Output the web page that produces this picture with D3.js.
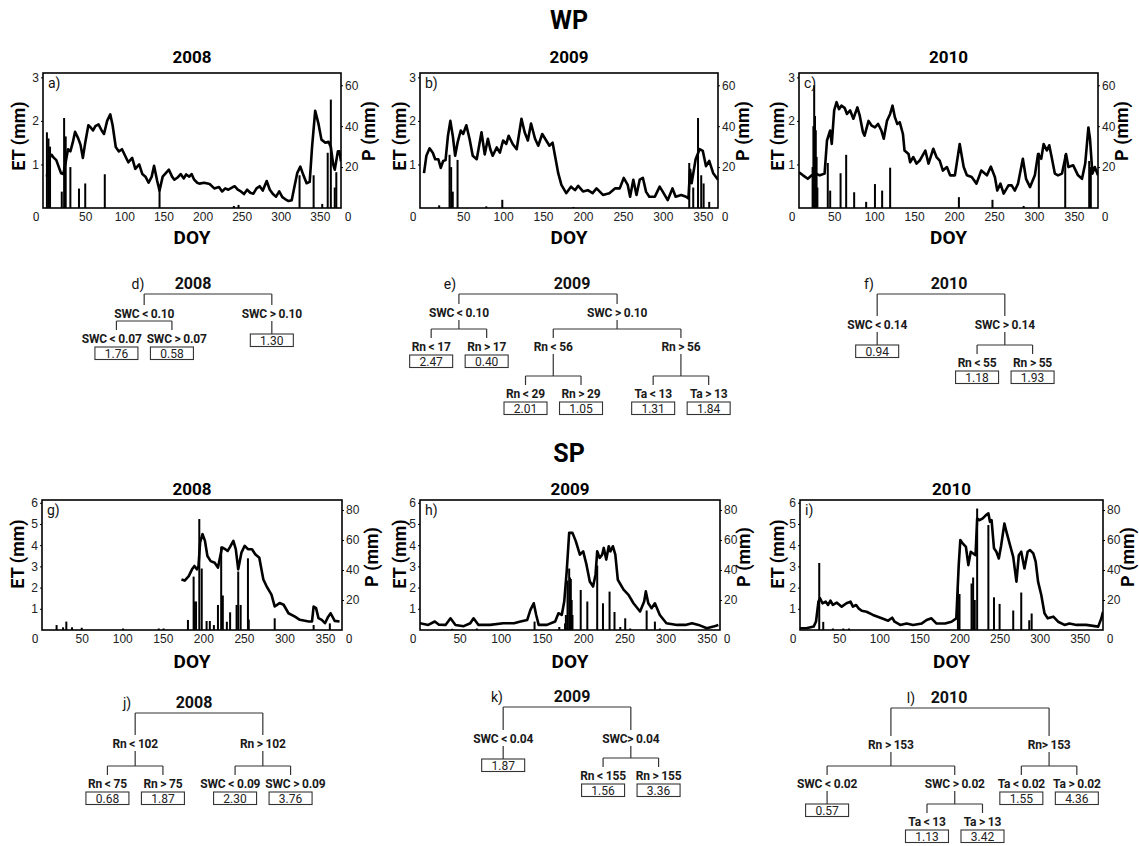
<!DOCTYPE html>
<html>
<head>
<meta charset="utf-8">
<script src="https://cdn.jsdelivr.net/npm/d3@7"></script>
<style>
	body { margin: 0; background: #fff; }
	svg { display: block; font-family: Roboto, 'Open Sans', sans-serif; }
	.tick text { font-size: 12px; fill: #222; }
	.tick line { stroke: #000; }
</style>
</head>
<body>
<svg id="chart" width="1139" height="846"></svg>
<script>
// ---- data ----
const xTicks = [ 50, 100, 150, 200, 250, 300, 350 ];
const wpEtTicks = [ 1, 2, 3 ];
const wpPTicks = [ 20, 40, 60 ];
const spEtTicks = [ 1, 2, 3, 4, 5, 6 ];
const spPTicks = [ 20, 40, 60, 80 ];

// WP daily ET (mm) as [DOY, ET]
const wpEt2008 = [
	[1,0.72],[4,1.15],[7,1.22],[10,1.15],[13,1.1],[16,0.95],[19,0.8],[22,0.78],[25,1.05],[28,1.35],
	[31,1.3],[34,1.5],[37,1.75],[41,1.6],[44,1.45],[47,1.15],[50,1.5],[54,1.9],[57,1.85],[60,1.78],
	[63,1.88],[67,1.92],[71,1.78],[74,1.7],[78,2.0],[82,2.15],[85,1.9],[89,1.4],[93,1.3],[97,1.35],
	[101,1.2],[105,1.05],[110,1.15],[114,0.9],[119,1.0],[123,0.78],[127,0.72],[131,0.58],[135,0.72],[138,0.97],
	[142,0.62],[145,0.4],[149,0.72],[153,0.8],[157,0.88],[161,0.72],[164,0.65],[168,0.7],[172,0.78],[176,0.68],
	[179,0.77],[183,0.72],[186,0.78],[189,0.66],[193,0.58],[196,0.56],[202,0.58],[209,0.55],[215,0.45],[221,0.48],
	[225,0.38],[229,0.45],[233,0.42],[237,0.46],[241,0.5],[245,0.42],[249,0.38],[253,0.32],[257,0.42],[261,0.35],
	[265,0.33],[269,0.45],[273,0.5],[277,0.4],[282,0.62],[286,0.42],[290,0.32],[294,0.26],[298,0.38],[302,0.25],
	[306,0.2],[310,0.16],[314,0.18],[317,0.45],[321,0.8],[325,0.95],[329,0.75],[333,0.57],[337,0.6],[340,1.4],
	[344,2.23],[348,1.95],[352,1.57],[357,1.5],[361,1.52],[364,1.4],[367,1.0],[369,0.88],[373,1.3],[375,1.3],[377,1.07]
];
const wpEt2009 = [
	[1,0.8],[4,1.2],[8,1.37],[12,1.27],[15,1.12],[19,1.12],[22,0.92],[25,1.08],[28,1.1],[31,1.66],
	[34,2.0],[37,1.66],[40,1.2],[43,1.5],[47,1.78],[50,1.7],[54,1.9],[58,1.59],[62,1.2],[67,1.12],
	[73,1.74],[77,1.23],[81,1.59],[84,1.35],[87,1.2],[92,1.39],[96,1.27],[100,1.55],[104,1.47],[107,1.66],
	[112,1.47],[117,1.35],[123,2.05],[127,1.74],[131,1.55],[135,1.94],[140,1.59],[144,1.43],[149,1.7],[154,1.55],
	[158,1.43],[162,1.5],[165,1.2],[169,0.8],[173,0.53],[179,0.34],[185,0.49],[190,0.41],[194,0.51],[200,0.38],
	[206,0.41],[212,0.34],[217,0.45],[225,0.3],[233,0.34],[240,0.45],[246,0.45],[251,0.69],[256,0.53],[259,0.26],
	[263,0.65],[267,0.3],[271,0.65],[275,0.69],[279,0.37],[283,0.26],[290,0.26],[296,0.49],[300,0.37],[306,0.18],
	[312,0.45],[316,0.26],[323,0.3],[329,0.26],[332,0.22],[334,0.88],[336,0.57],[341,1.12],[346,1.35],[350,1.31],
	[354,0.96],[358,1.08],[363,0.8],[369,0.65]
];
const wpEt2010 = [
	[6,0.82],[11,0.75],[17,0.67],[22,0.75],[28,0.78],[32,0.75],[38,0.79],[41,1.55],[45,1.78],[47,1.47],
	[50,2.24],[53,2.43],[56,2.27],[59,2.35],[63,2.3],[66,2.16],[70,2.24],[74,2.05],[79,2.31],[82,2.12],
	[86,1.74],[88,1.66],[93,2.0],[97,1.89],[101,1.85],[105,1.93],[109,1.78],[112,1.59],[116,2.0],[120,2.16],
	[123,2.35],[126,2.08],[129,1.93],[132,1.97],[136,1.7],[138,1.32],[143,1.24],[145,1.05],[149,1.17],[153,1.02],
	[157,1.09],[164,1.32],[168,1.02],[174,1.36],[178,1.17],[182,1.09],[186,0.86],[191,0.94],[195,0.75],[201,0.75],
	[207,1.47],[212,0.94],[216,0.75],[222,0.71],[228,0.56],[234,0.86],[241,0.75],[246,0.95],[251,0.71],[254,0.4],
	[258,0.56],[262,0.33],[268,0.52],[272,0.52],[276,0.4],[280,0.56],[286,1.13],[290,0.67],[295,0.48],[301,0.75],
	[305,1.24],[309,1.13],[312,1.47],[316,1.32],[319,1.44],[322,1.17],[326,0.79],[330,0.75],[335,0.79],[340,1.24],
	[343,0.94],[349,0.98],[355,0.75],[360,0.67],[364,1.02],[368,1.85],[370,1.59],[373,0.79],[376,0.94],[380,0.75]
];

// WP precipitation (mm) as [DOY, P]
const wpP2008 = [
	[1,37],[3,34],[5,30],[20,8],[23,44],[25,35],[31,20],[42,9.5],[50,12],[75,16.5],[145,10],
	[240,1],[246,1.5],[324,16],[342,16],[353,2],[360,27],[364,53],[369,10],[371,17.5]
];
const wpP2009 = [
	[20,1.3],[33,26],[35,20],[37,8],[43,23.5],[79,0.8],[99,4],[188,0.5],
	[333,22],[338,10],[344,44],[348,16],[351,12],[358,3]
];
const wpP2010 = [
	[23,20],[24,40],[25,60],[26,45],[27,38],[28,25],[29,10],[42,22],[45,8.5],[58,17],[65,26],[75,7.7],
	[90,3],[101,11.7],[110,8.5],[120,19.7],[206,5.3],[248,4],[287,1],[306,27],[339,26],[369,23],[371,20]
];

// SP daily ET (mm) as [DOY, ET]
const spEt2008 = [
	[173,2.38],[177,2.33],[182,2.54],[186,2.86],[189,3.02],[192,2.86],[194,3.0],[196,4.13],[199,4.52],[202,4.2],
	[205,3.49],[209,3.25],[214,3.17],[218,2.94],[223,3.89],[227,3.81],[230,3.73],[233,3.92],[237,4.2],[240,3.81],
	[243,2.86],[247,3.65],[251,3.97],[255,3.81],[260,3.81],[264,3.57],[269,3.41],[274,2.38],[278,2.06],[284,1.67],
	[288,1.11],[294,1.27],[299,1.19],[305,0.79],[313,0.63],[319,0.48],[330,0.4],[334,0.4],[336,1.11],[339,1.03],
	[342,0.56],[346,0.48],[350,0.32],[354,0.63],[357,0.79],[362,0.43],[368,0.4]
];
const spEt2009 = [
	[2,0.32],[12,0.24],[20,0.4],[25,0.25],[33,0.24],[39,0.55],[45,0.24],[55,0.18],[63,0.32],[67,0.55],
	[73,0.24],[87,0.24],[103,0.32],[116,0.32],[124,0.4],[132,0.47],[136,0.95],[140,1.26],[143,0.71],[146,0.24],
	[156,0.24],[166,0.4],[170,0.79],[174,0.71],[177,1.34],[180,2.76],[183,4.58],[187,4.58],[191,4.19],[196,3.55],
	[200,3.71],[204,3.08],[208,2.29],[212,2.05],[215,2.61],[217,3.71],[220,3.4],[223,3.55],[225,3.87],[228,3.32],
	[231,3.95],[233,3.71],[236,3.95],[239,3.55],[242,2.37],[249,1.9],[255,1.66],[261,1.26],[269,0.87],[274,1.34],
	[276,1.82],[279,1.26],[283,1.03],[287,1.26],[293,0.71],[301,0.32],[314,0.24],[324,0.24],[332,0.32],[340,0.24],
	[350,0.08],[358,0.16],[364,0.24]
];
const spEt2010 = [
	[1,0.08],[9,0.08],[18,0.16],[21,0.4],[24,1.34],[26,1.5],[29,1.26],[33,1.34],[36,1.18],[39,1.38],
	[42,1.18],[47,1.29],[53,1.1],[59,1.26],[64,1.34],[67,1.1],[71,1.18],[74,1.02],[78,0.91],[84,0.86],
	[92,0.71],[103,0.55],[111,0.44],[116,0.58],[119,0.39],[126,0.24],[134,0.31],[142,0.24],[153,0.31],[159,0.47],
	[165,0.55],[171,0.31],[182,0.31],[190,0.39],[196,0.55],[199,3.06],[201,4.24],[204,4.08],[208,3.92],[211,3.06],
	[214,3.69],[217,3.61],[220,3.53],[222,5.26],[225,5.18],[229,5.26],[233,5.42],[236,5.5],[238,5.1],[240,5.18],
	[243,3.85],[246,3.69],[249,3.37],[252,4.0],[256,5.02],[258,4.71],[263,4.0],[267,3.45],[271,2.28],[274,3.53],
	[277,3.69],[281,2.9],[285,3.69],[288,3.77],[292,3.61],[295,3.22],[298,2.28],[302,1.65],[306,0.79],[310,0.55],
	[317,0.63],[323,0.39],[331,0.24],[337,0.31],[346,0.24],[358,0.24],[373,0.16],[377,0.55],[379,0.86]
];

// SP precipitation (mm) as [DOY, P]
const spP2008 = [
	[19,3.3],[27,1.8],[31,5.6],[38,1.8],[50,1.5],[101,1],[145,1],[151,1],[181,6.7],[188,35.6],[189,19],[191,19],
	[195,74],[198,41],[204,6],[208,6],[213,3.3],[218,16.7],[222,55.6],[224,23],[229,5.5],[233,11.8],[241,16.7],
	[243,39],[246,16.7],[255,47.8],[256,7],[288,7.8],[336,3.3],[356,4.4]
];
const spP2009 = [
	[41,0.8],[71,1],[141,5.6],[171,2],[178,4.4],[179,10],[181,33],[183,41],[184,35],[185,34],[186,20],[187,10],
	[197,26.7],[205,19],[217,43],[224,17.8],[232,25.6],[238,12],[245,2],[251,7.8],[257,1],[277,13],[287,5.6],[293,1]
];
const spP2010 = [
	[25,44.7],[30,5.4],[42,1],[55,1],[62,1],[198,29.4],[200,24],[215,31],[217,35],[219,20],[222,81],[236,70],
	[243,21.8],[250,17.4],[267,13],[277,25],[287,6.5],[290,11]
];

// regression trees
const treeD = { label: '2008', children: [
	{ label: 'SWC < 0.10', children: [ { label: 'SWC < 0.07', value: '1.76' }, { label: 'SWC > 0.07', value: '0.58' } ] },
	{ label: 'SWC > 0.10', value: '1.30' } ] };
const treeE = { label: '2009', children: [
	{ label: 'SWC < 0.10', children: [ { label: 'Rn < 17', value: '2.47' }, { label: 'Rn > 17', value: '0.40' } ] },
	{ label: 'SWC > 0.10', children: [
		{ label: 'Rn < 56', children: [ { label: 'Rn < 29', value: '2.01' }, { label: 'Rn > 29', value: '1.05' } ] },
		{ label: 'Rn > 56', children: [ { label: 'Ta < 13', value: '1.31' }, { label: 'Ta > 13', value: '1.84' } ] } ] } ] };
const treeF = { label: '2010', children: [
	{ label: 'SWC < 0.14', value: '0.94' },
	{ label: 'SWC > 0.14', children: [ { label: 'Rn < 55', value: '1.18' }, { label: 'Rn > 55', value: '1.93' } ] } ] };
const treeJ = { label: '2008', children: [
	{ label: 'Rn < 102', children: [ { label: 'Rn < 75', value: '0.68' }, { label: 'Rn > 75', value: '1.87' } ] },
	{ label: 'Rn > 102', children: [ { label: 'SWC < 0.09', value: '2.30' }, { label: 'SWC > 0.09', value: '3.76' } ] } ] };
const treeK = { label: '2009', children: [
	{ label: 'SWC < 0.04', value: '1.87' },
	{ label: 'SWC> 0.04', children: [ { label: 'Rn < 155', value: '1.56' }, { label: 'Rn > 155', value: '3.36' } ] } ] };
const treeL = { label: '2010', children: [
	{ label: 'Rn > 153', children: [
		{ label: 'SWC < 0.02', value: '0.57' },
		{ label: 'SWC > 0.02', children: [ { label: 'Ta < 13', value: '1.13' }, { label: 'Ta > 13', value: '3.42' } ] } ] },
	{ label: 'Rn> 153', children: [ { label: 'Ta < 0.02', value: '1.55' }, { label: 'Ta > 0.02', value: '4.36' } ] } ] };

// ---- layout ----
const svg = d3.select('#chart');

const rows = [
	{ name: 'WP', nameY: 29, top: 73, bottom: 208, etMax: 3.1, pMax: 66, etTicks: wpEtTicks, pTicks: wpPTicks,
		yearY: 63, doyY: 244, etLabelY: 136, pLabelY: 131 },
	{ name: 'SP', nameY: 462, top: 500, bottom: 630, etMax: 6.13, pMax: 86.7, etTicks: spEtTicks, pTicks: spPTicks,
		yearY: 495, doyY: 668, etLabelY: 554, pLabelY: 557 }
];

const panels = [
	{ row: 0, tag: 'a)', year: '2008', et: wpEt2008, p: wpP2008, left: 43, width: 298, domain: [ -4, 377 ], etDx: -23, pDx: 29 },
	{ row: 0, tag: 'b)', year: '2009', et: wpEt2009, p: wpP2009, left: 420, width: 298, domain: [ -4, 369 ], etDx: -19, pDx: 26 },
	{ row: 0, tag: 'c)', year: '2010', et: wpEt2010, p: wpP2010, left: 799, width: 299, domain: [ 6, 380 ], etDx: -20, pDx: 25 },
	{ row: 1, tag: 'g)', year: '2008', et: spEt2008, p: spP2008, left: 42, width: 300, domain: [ 1, 371 ], etDx: -23, pDx: 31 },
	{ row: 1, tag: 'h)', year: '2009', et: spEt2009, p: spP2009, left: 420, width: 300, domain: [ 2, 366 ], etDx: -19, pDx: 25 },
	{ row: 1, tag: 'i)', year: '2010', et: spEt2010, p: spP2010, left: 800, width: 303, domain: [ 1, 379 ], etDx: -21, pDx: 26 }
];

rows.forEach(function(r) {
	svg.append('text').attr('x', 569).attr('y', r.nameY).attr('text-anchor', 'middle')
		.attr('font-size', '25px').attr('font-weight', 'bold').text(r.name);
});

panels.forEach(function(cfg, i) {
	const row = rows[cfg.row];
	const right = cfg.left + cfg.width;
	const cx = cfg.left + cfg.width / 2;

	const x = d3.scaleLinear().domain(cfg.domain).range([ cfg.left, right ]);
	const yEt = d3.scaleLinear().domain([ 0, row.etMax ]).range([ row.bottom, row.top ]);
	const yP = d3.scaleLinear().domain([ 0, row.pMax ]).range([ row.bottom, row.top ]);

	const g = svg.append('g');

	g.append('defs').append('clipPath').attr('id', 'clip' + i)
		.append('rect').attr('x', cfg.left).attr('y', row.top).attr('width', cfg.width).attr('height', row.bottom - row.top);

	const plot = g.append('g').attr('clip-path', `url(#clip${i})`);

	// precipitation bars
	plot.selectAll('rect.rain').data(cfg.p).enter().append('rect')
		.attr('class', 'rain')
		.attr('x', d => x(d[0]) - 1)
		.attr('width', 2)
		.attr('y', d => yP(d[1]))
		.attr('height', d => row.bottom - yP(d[1]))
		.attr('fill', '#000');

	// ET line
	plot.append('path').datum(cfg.et)
		.attr('d', d3.line().x(d => x(d[0])).y(d => yEt(d[1])))
		.attr('fill', 'none')
		.attr('stroke', '#000')
		.attr('stroke-width', 2.6)
		.attr('stroke-linejoin', 'round');

	// frame
	g.append('rect').attr('x', cfg.left).attr('y', row.top).attr('width', cfg.width).attr('height', row.bottom - row.top)
		.attr('fill', 'none').attr('stroke', '#000').attr('stroke-width', 1.6);

	// axes
	g.append('g').attr('transform', `translate(0,${row.bottom})`)
		.call(d3.axisBottom(x).tickValues(xTicks).tickSize(0).tickPadding(4))
		.call(s => s.select('.domain').remove());
	g.append('g').attr('transform', `translate(${cfg.left},0)`)
		.call(d3.axisLeft(yEt).tickValues(row.etTicks).tickFormat(d3.format('d')).tickSize(2).tickPadding(2))
		.call(s => s.select('.domain').remove());
	g.append('g').attr('transform', `translate(${right},0)`)
		.call(d3.axisRight(yP).tickValues(row.pTicks).tickFormat(d3.format('d')).tickSize(2).tickPadding(2))
		.call(s => s.select('.domain').remove());

	// corner zeros
	g.append('text').attr('x', cfg.left - 7).attr('y', row.bottom + 13).attr('text-anchor', 'middle')
		.attr('font-size', '12px').attr('fill', '#222').text('0');
	g.append('text').attr('x', right + 7).attr('y', row.bottom + 13).attr('text-anchor', 'middle')
		.attr('font-size', '12px').attr('fill', '#222').text('0');

	// panel tag
	g.append('text').attr('x', cfg.left + 5).attr('y', row.top + 15)
		.attr('font-size', '14px').attr('fill', '#111').text(cfg.tag);

	// titles
	g.append('text').attr('x', cx).attr('y', row.yearY).attr('text-anchor', 'middle')
		.attr('font-size', '17px').attr('font-weight', 'bold').text(cfg.year);
	g.append('text').attr('x', cx).attr('y', row.doyY).attr('text-anchor', 'middle')
		.attr('font-size', '19px').attr('font-weight', 'bold').text('DOY');
	// rotated labels: baseline sits about 5px right of the visual centre
	g.append('text')
		.attr('transform', `translate(${cfg.left + cfg.etDx + 5},${row.etLabelY}) rotate(-90)`)
		.attr('text-anchor', 'middle').attr('font-size', '18px').attr('font-weight', 'bold').text('ET (mm)');
	g.append('text')
		.attr('transform', `translate(${right + cfg.pDx + 5},${row.pLabelY}) rotate(-90)`)
		.attr('text-anchor', 'middle').attr('font-size', '18px').attr('font-weight', 'bold').text('P (mm)');
});

// ---- trees ----
const treeLayouts = [
	{ tree: treeD, tag: 'd)', rootX: 208, levels: [ 283, 313, 338 ], titleDx: -15, tagDx: -55 },
	{ tree: treeE, tag: 'e)', rootX: 538, levels: [ 283, 312, 346, 393 ], titleDx: 34, tagDx: -122 },
	{ tree: treeF, tag: 'f)', rootX: 941, levels: [ 283, 324, 362 ], titleDx: 8, tagDx: -80 },
	{ tree: treeJ, tag: 'j)', rootX: 199, levels: [ 702, 743, 783 ], titleDx: -5, tagDx: -67 },
	{ tree: treeK, tag: 'k)', rootX: 567, levels: [ 696, 738, 775 ], titleDx: 5, tagDx: -75 },
	{ tree: treeL, tag: 'l)', rootX: 970, levels: [ 697, 744, 783, 821 ], titleDx: -21, tagDx: -38 }
];

const layoutTree = d3.tree()
	.nodeSize([ 55.5, 1 ])
	.separation((a, b) => (a.parent === b.parent ? (a.children || b.children ? 2.3 : 1) : 1.2));

const lineColor = '#333';

treeLayouts.forEach(function(cfg) {
	const root = layoutTree(d3.hierarchy(cfg.tree));
	const g = svg.append('g').attr('transform', `translate(${cfg.rootX},0)`);
	const Y = n => cfg.levels[n.depth];

	function seg(x1, y1, x2, y2) {
		g.append('line').attr('x1', x1).attr('y1', y1).attr('x2', x2).attr('y2', y2)
			.attr('stroke', lineColor).attr('stroke-width', 1.2);
	}

	// title and tag
	g.append('text').attr('x', root.x + cfg.titleDx).attr('y', Y(root) + 6).attr('text-anchor', 'middle')
		.attr('font-size', '16px').attr('font-weight', 'bold').attr('fill', '#111').text(root.data.label);
	g.append('text').attr('x', root.x + cfg.titleDx + cfg.tagDx).attr('y', Y(root) + 6).attr('text-anchor', 'middle')
		.attr('font-size', '14px').attr('fill', '#111').text(cfg.tag);

	// brackets
	root.each(function(n) {
		if (!n.children) return;
		const y = Y(n);
		const childY = cfg.levels[n.depth + 1];
		const bracketY = n.depth === 0 ? y + 11 : Math.max(y + 8, childY - 17);
		if (n.depth > 0 && bracketY - (y + 8) > 2) seg(n.x, y + 8, n.x, bracketY);
		const xs = n.children.map(c => c.x);
		seg(d3.min(xs), bracketY, d3.max(xs), bracketY);
		n.children.forEach(c => seg(c.x, bracketY, c.x, childY - 8));
	});

	// node labels
	const nodes = root.descendants().filter(n => n.depth > 0);
	const labels = g.selectAll('text.node').data(nodes).enter().append('text')
		.attr('class', 'node')
		.attr('x', n => n.x)
		.attr('y', n => Y(n) + 4.5)
		.attr('text-anchor', 'middle')
		.attr('font-size', '12px')
		.attr('font-weight', 'bold')
		.attr('letter-spacing', '-0.2px')
		.attr('fill', '#1a1a1a')
		.text(n => n.data.label);

	// push sibling labels apart where they would collide
	labels.each(function(n) { n.labelW = this.getComputedTextLength(); n.labelX = n.x; });
	root.each(function(n) {
		if (!n.children) return;
		for (let k = 1; k < n.children.length; k++) {
			const a = n.children[k - 1], b = n.children[k];
			const need = (a.labelW + b.labelW) / 2 + 5 - (b.labelX - a.labelX);
			if (need > 0) { a.labelX -= need / 2; b.labelX += need / 2; }
		}
	});
	labels.attr('x', n => n.labelX);

	// leaf boxes
	const leaves = nodes.filter(n => !n.children);
	leaves.forEach(function(n) {
		const y = Y(n);
		const siblingsSplit = n.parent.children.some(s => s.children);
		const boxTop = siblingsSplit ? y + 21 : y + 9;
		if (siblingsSplit) seg(n.x, y + 8, n.x, boxTop);
		g.append('rect').attr('x', n.x - 21.5).attr('y', boxTop).attr('width', 43).attr('height', 12.5)
			.attr('fill', '#fff').attr('stroke', lineColor).attr('stroke-width', 1.1);
		g.append('text').attr('x', n.x).attr('y', boxTop + 10.5).attr('text-anchor', 'middle')
			.attr('font-size', '12px').attr('fill', '#222').text(n.data.value);
	});
});
</script>
</body>
</html>
